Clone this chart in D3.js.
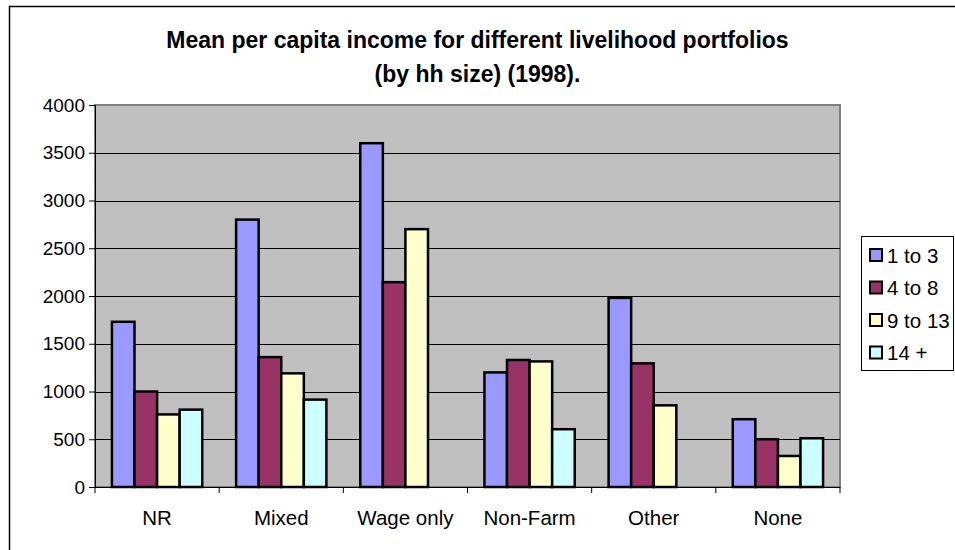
<!DOCTYPE html>
<html>
<head>
<meta charset="utf-8">
<script src="https://cdn.jsdelivr.net/npm/d3@7"></script>
<style>
  html, body { margin: 0; padding: 0; background: #ffffff; }
  svg { display: block; font-family: "Liberation Sans", Arial, sans-serif; }
</style>
</head>
<body>
<svg id="chart" width="955" height="550"></svg>
<script>
// Livelihood portfolios (categories) and household-size groups (series)
const categories = ["NR", "Mixed", "Wage only", "Non-Farm", "Other", "None"];
const seriesNames = ["1 to 3", "4 to 8", "9 to 13", "14 +"];
const seriesColors = ["#9999FF", "#993366", "#FFFFCC", "#CCFFFF"];

// Mean per capita income, one array per household-size group
const size1to3 = [1730, 2800, 3600, 1200, 1980, 710];
const size4to8 = [1000, 1360, 2145, 1330, 1295, 500];
const size9to13 = [760, 1190, 2700, 1315, 855, 325];
const size14plus = [810, 915, null, 605, null, 510];

const yTicks = [0, 500, 1000, 1500, 2000, 2500, 3000, 3500, 4000];

const titleLines = [
  "Mean per capita income for different livelihood portfolios",
  "(by hh size) (1998)."
];

const allSeries = [size1to3, size4to8, size9to13, size14plus];

const svg = d3.select("#chart");

// Outer chart frame
svg.append("rect")
  .attr("x", 9.5).attr("y", 6.5)
  .attr("width", 1000).attr("height", 600)
  .attr("fill", "#ffffff")
  .attr("stroke", "#000000").attr("stroke-width", 1.5);

const plot = { left: 95, right: 840, top: 105, bottom: 487 };

const y = d3.scaleLinear().domain([0, 4000]).range([plot.bottom, plot.top]);

// Category bands: gap width 150% of one bar
const gapRatio = 1.5 / (seriesNames.length + 1.5);
const x0 = d3.scaleBand()
  .domain(categories)
  .range([plot.left, plot.right])
  .paddingInner(gapRatio)
  .paddingOuter(gapRatio / 2);

const x1 = d3.scaleBand()
  .domain(seriesNames)
  .range([0, x0.bandwidth()]);

// Plot area
svg.append("rect")
  .attr("x", plot.left).attr("y", plot.top)
  .attr("width", plot.right - plot.left)
  .attr("height", plot.bottom - plot.top)
  .attr("fill", "#C0C0C0")
  .attr("stroke", "#808080").attr("stroke-width", 2);

// Horizontal gridlines
svg.append("g")
  .selectAll("line")
  .data(yTicks.filter(t => t > 0 && t < 4000))
  .join("line")
  .attr("x1", plot.left).attr("x2", plot.right)
  .attr("y1", d => Math.round(y(d)) + 0.5)
  .attr("y2", d => Math.round(y(d)) + 0.5)
  .attr("stroke", "#000000").attr("stroke-width", 1);

// Bars
const rows = categories.map((c, i) => ({
  category: c,
  values: seriesNames.map((s, j) => ({ series: s, idx: j, value: allSeries[j][i] }))
}));

svg.append("g")
  .selectAll("g")
  .data(rows)
  .join("g")
  .attr("transform", d => `translate(${x0(d.category)},0)`)
  .selectAll("rect")
  .data(d => d.values.filter(v => v.value != null && v.value > 0))
  .join("rect")
  .attr("x", d => x1(d.series))
  .attr("y", d => y(d.value))
  .attr("width", x1.bandwidth())
  .attr("height", d => y(0) - y(d.value))
  .attr("fill", d => seriesColors[d.idx])
  .attr("stroke", "#000000").attr("stroke-width", 2.5);

// Y axis
const yAxis = d3.axisLeft(y)
  .tickValues(yTicks)
  .tickSize(6)
  .tickPadding(4)
  .tickFormat(d3.format("d"));

const yg = svg.append("g")
  .attr("transform", `translate(${plot.left},0)`)
  .call(yAxis);
yg.select(".domain").attr("stroke", "#000000").attr("stroke-width", 1);
yg.selectAll(".tick line").attr("stroke", "#000000");
yg.selectAll(".tick text")
  .attr("font-size", 19)
  .attr("font-family", "Liberation Sans, Arial, sans-serif")
  .attr("fill", "#000000");

// X axis: ticks at category boundaries
const xAxisG = svg.append("g");
xAxisG.append("line")
  .attr("x1", plot.left).attr("x2", plot.right)
  .attr("y1", plot.bottom + 0.5).attr("y2", plot.bottom + 0.5)
  .attr("stroke", "#000000");
const step = x0.step();
xAxisG.selectAll("line.bound")
  .data(d3.range(categories.length + 1))
  .join("line")
  .attr("class", "bound")
  .attr("x1", i => plot.left + i * step)
  .attr("x2", i => plot.left + i * step)
  .attr("y1", plot.bottom)
  .attr("y2", plot.bottom + 6)
  .attr("stroke", "#000000");
xAxisG.selectAll("text")
  .data(categories)
  .join("text")
  .attr("x", (d, i) => plot.left + (i + 0.5) * step)
  .attr("y", 525)
  .attr("text-anchor", "middle")
  .attr("font-size", 20.5)
  .attr("fill", "#000000")
  .text(d => d);

// Title
svg.append("g")
  .selectAll("text")
  .data(titleLines)
  .join("text")
  .attr("x", 477.5)
  .attr("y", (d, i) => 48 + i * 34)
  .attr("text-anchor", "middle")
  .attr("font-size", 23)
  .attr("font-weight", "bold")
  .attr("fill", "#000000")
  .text(d => d);

// Legend
const legend = svg.append("g");
legend.append("rect")
  .attr("x", 861.5).attr("y", 236.5)
  .attr("width", 92).attr("height", 134)
  .attr("fill", "#ffffff")
  .attr("stroke", "#000000").attr("stroke-width", 1);

const legendItems = legend.selectAll("g.item")
  .data(seriesNames)
  .join("g")
  .attr("class", "item")
  .attr("transform", (d, i) => `translate(0,${255 + i * 32.5})`);

legendItems.append("rect")
  .attr("x", 870).attr("y", -6)
  .attr("width", 12).attr("height", 12)
  .attr("fill", (d, i) => seriesColors[i])
  .attr("stroke", "#000000").attr("stroke-width", 2);

legendItems.append("text")
  .attr("x", 887)
  .attr("y", 7.5)
  .attr("font-size", 20.5)
  .attr("fill", "#000000")
  .text(d => d);
</script>
</body>
</html>
